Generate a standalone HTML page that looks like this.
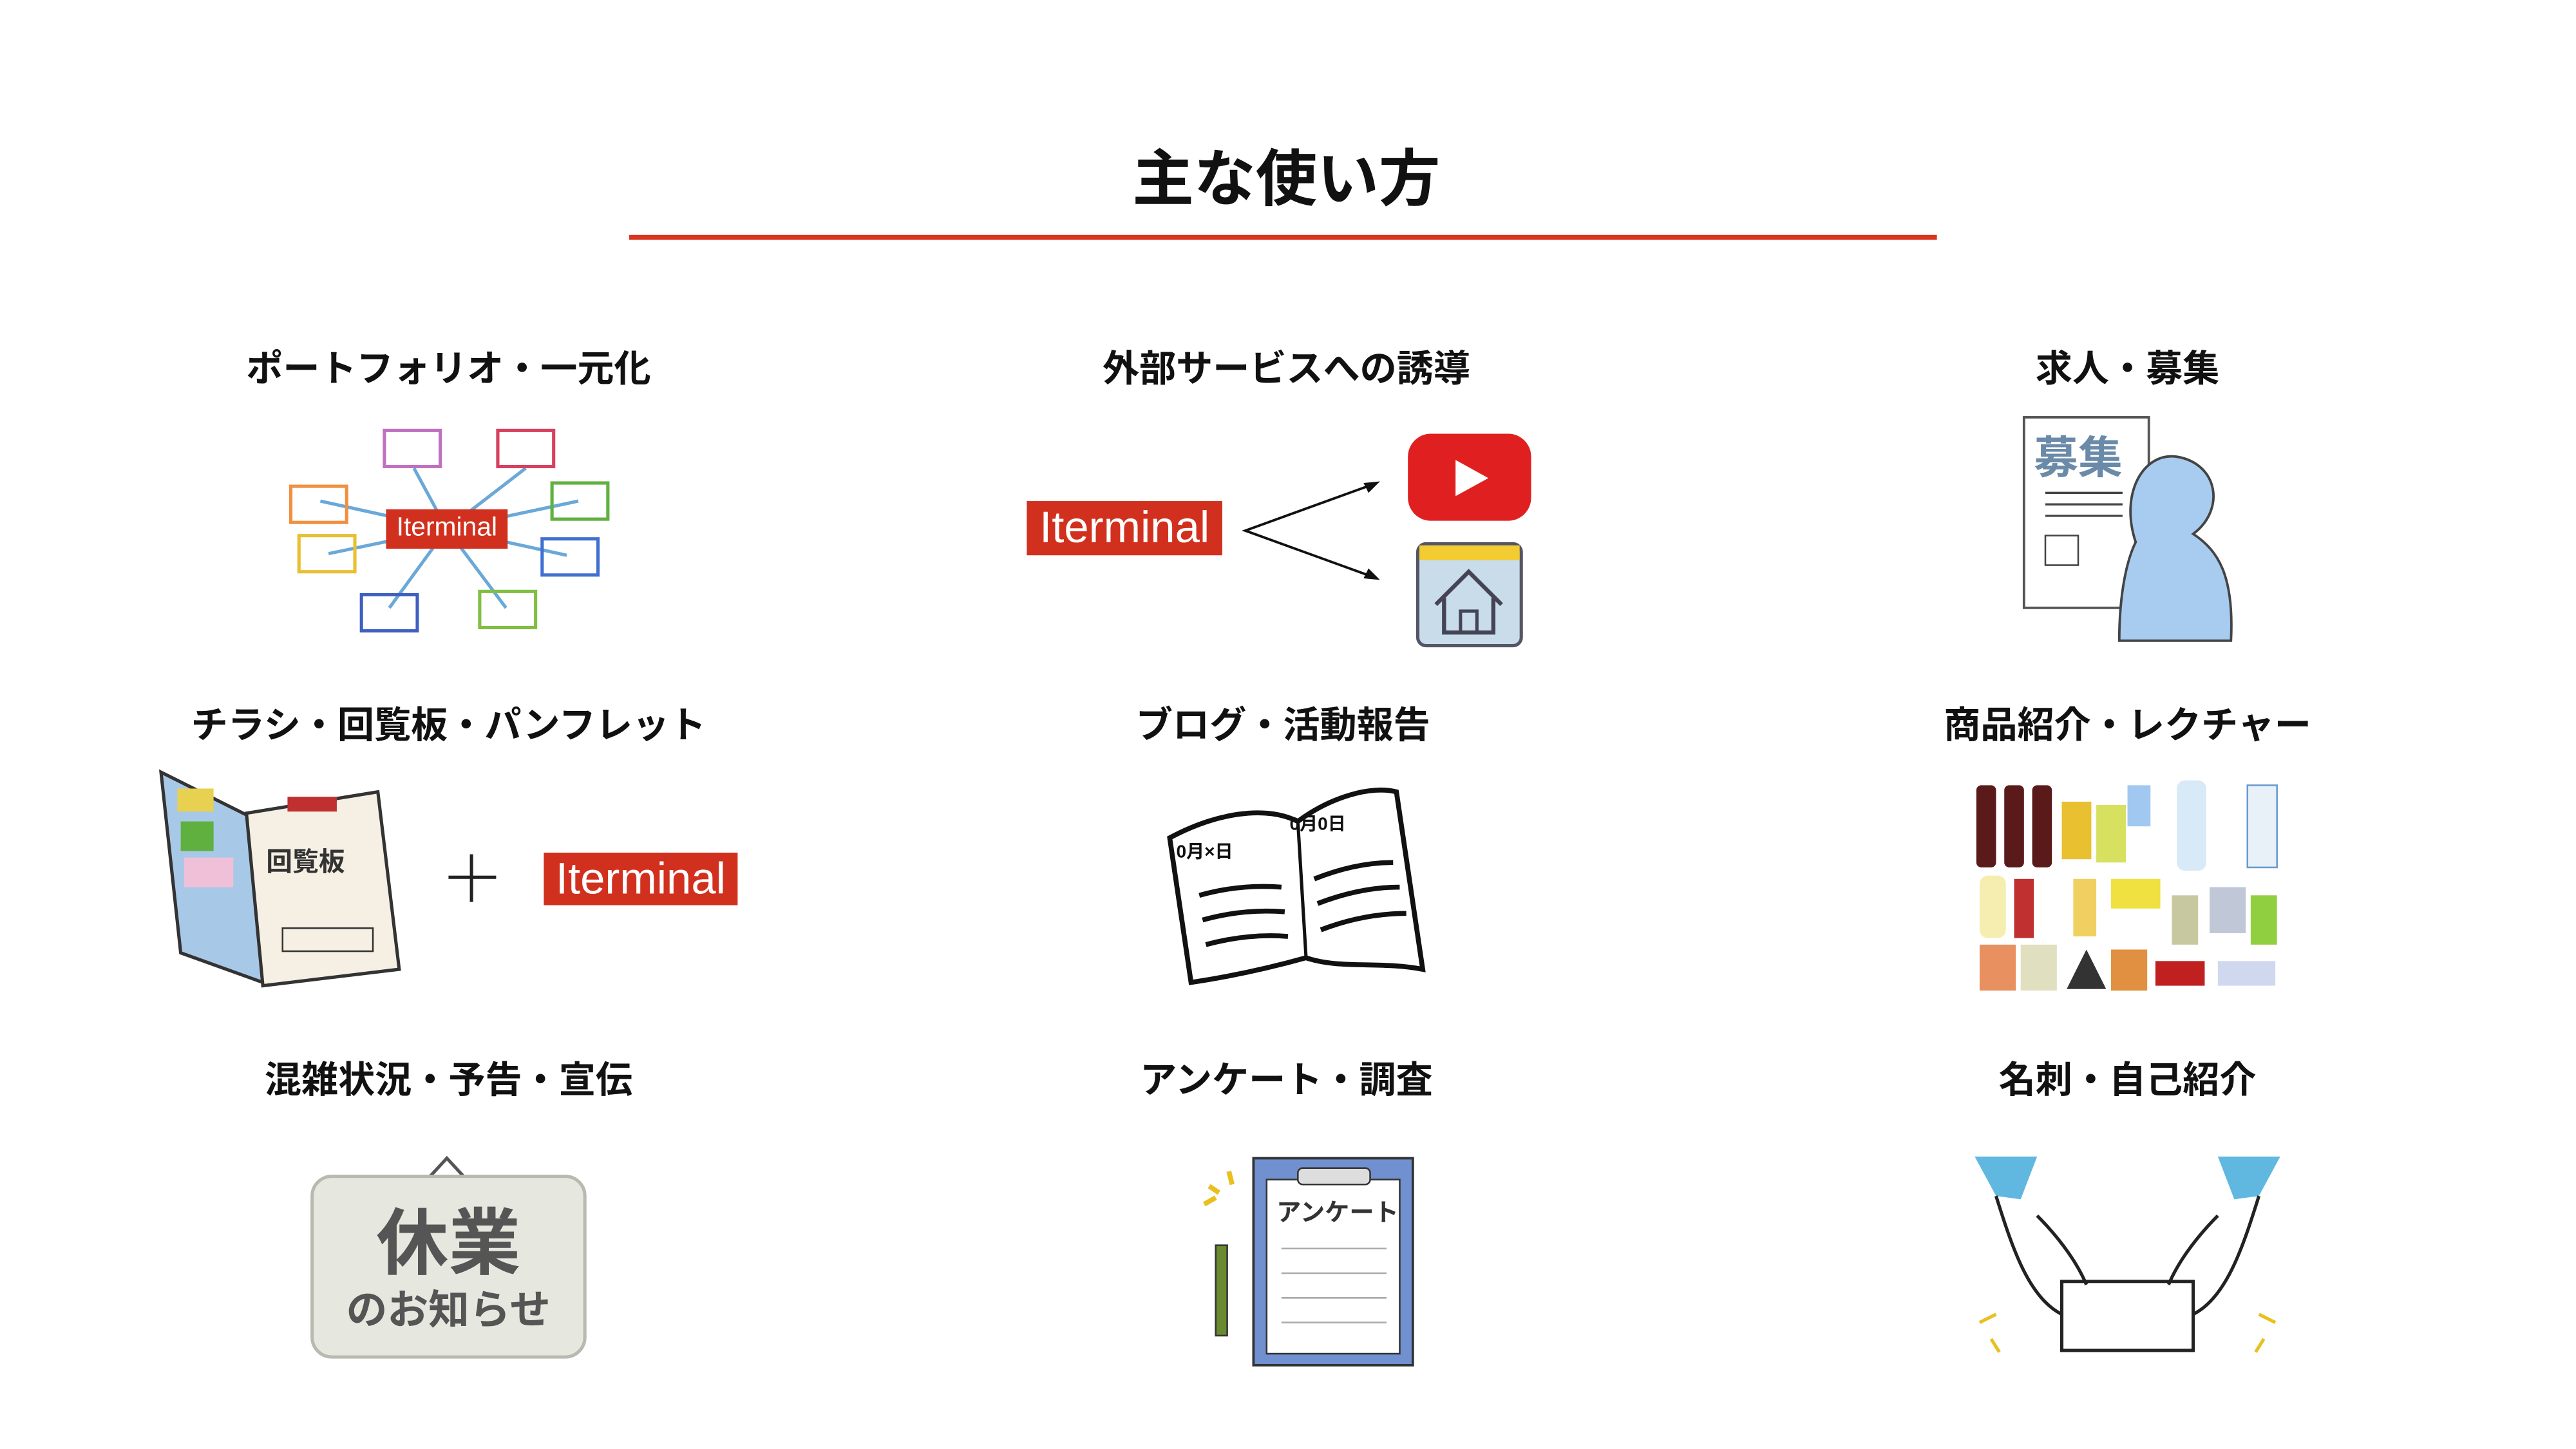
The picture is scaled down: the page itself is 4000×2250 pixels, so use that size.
<!DOCTYPE html>
<html><head><meta charset="utf-8"><style>
html,body{margin:0;padding:0;background:#fff;}
body{width:4000px;height:2250px;overflow:hidden;position:relative;}
#s{position:absolute;left:0;top:0;width:1568px;height:882px;transform:scale(2.551);transform-origin:0 0;font-family:"Liberation Sans","Noto Sans CJK JP",sans-serif;}
.t{position:absolute;font-weight:bold;color:#111;white-space:nowrap;transform:translateX(-50%);}
.lab{font-size:22.4px;}
.badge{position:absolute;background:#d2301e;color:#fff;text-align:center;font-family:"Liberation Sans",sans-serif;}
.a{position:absolute;}
</style></head><body><div id="s">
<div class="t" style="left:783px;top:78px;font-size:37.5px;">主な使い方</div>
<div class="a" style="left:383px;top:143px;width:796px;height:3px;background:#d9341c;"></div>

<div class="t lab" style="left:273px;top:207px;">ポートフォリオ・一元化</div>
<div class="t lab" style="left:783px;top:207px;">外部サービスへの誘導</div>
<div class="t lab" style="left:1295px;top:207px;">求人・募集</div>
<div class="t lab" style="left:273px;top:424px;">チラシ・回覧板・パンフレット</div>
<div class="t lab" style="left:781px;top:424px;">ブログ・活動報告</div>
<div class="t lab" style="left:1295px;top:424px;">商品紹介・レクチャー</div>
<div class="t lab" style="left:273px;top:640px;">混雑状況・予告・宣伝</div>
<div class="t lab" style="left:783px;top:640px;">アンケート・調査</div>
<div class="t lab" style="left:1295px;top:640px;">名刺・自己紹介</div>

<!-- portfolio -->
<svg class="a" style="left:170px;top:255px" width="210" height="135" viewBox="170 255 210 135" fill="none" stroke-width="2">
<g stroke="#6aa8d8"><line x1="272" y1="322" x2="252" y2="285"/><line x1="272" y1="322" x2="320" y2="285"/><line x1="272" y1="322" x2="195" y2="305"/><line x1="272" y1="322" x2="200" y2="337"/><line x1="272" y1="322" x2="352" y2="305"/><line x1="272" y1="322" x2="345" y2="338"/><line x1="272" y1="322" x2="237" y2="370"/><line x1="272" y1="322" x2="308" y2="370"/></g>
<rect x="234" y="262" width="34" height="22" stroke="#c070c0"/><rect x="303" y="262" width="34" height="22" stroke="#d84060"/>
<rect x="177" y="296" width="34" height="22" stroke="#f09040"/><rect x="182" y="326" width="34" height="22" stroke="#e8c030"/>
<rect x="336" y="294" width="34" height="22" stroke="#60b040"/><rect x="330" y="328" width="34" height="22" stroke="#4070d0"/>
<rect x="220" y="362" width="34" height="22" stroke="#4060c0"/><rect x="292" y="360" width="34" height="22" stroke="#80c040"/>
</svg>
<div class="badge" style="left:235px;top:310px;width:74px;height:24px;font-size:16px;line-height:24px;">Iterminal</div>

<!-- external -->
<div class="badge" style="left:625px;top:305px;width:119px;height:33px;font-size:27px;line-height:33px;">Iterminal</div>
<svg class="a" style="left:750px;top:260px" width="190" height="140" viewBox="750 260 190 140">
<polyline points="838,294 758,323 838,352" fill="none" stroke="#111" stroke-width="1.5"/>
<polygon points="840,293 830,294 833,300" fill="#111"/><polygon points="840,353 830,352 833,346" fill="#111"/>
<rect x="857" y="264" width="75" height="53" rx="14" fill="#e02020"/>
<polygon points="886,280 886,302 906,291" fill="#fff"/>
<rect x="863" y="331" width="63" height="62" rx="5" fill="#c8dcea" stroke="#556" stroke-width="2"/>
<rect x="864" y="332" width="61" height="9" fill="#f2cc30"/>
<path d="M874 368 L894 348 L914 368 M879 364 V385 H909 V364" fill="none" stroke="#445" stroke-width="2.5"/>
<rect x="889" y="372" width="10" height="13" fill="none" stroke="#445" stroke-width="2"/>
</svg>

<!-- recruit -->
<svg class="a" style="left:1225px;top:250px" width="140" height="145" viewBox="1225 250 140 145">
<rect x="1232" y="254" width="76" height="116" fill="#fff" stroke="#555" stroke-width="1.5"/>
<text x="1238" y="288" font-size="27" font-weight="bold" fill="#6a8aa8" font-family="Noto Sans CJK JP">募集</text>
<g stroke="#444" stroke-width="1.3"><line x1="1245" y1="300" x2="1292" y2="300"/><line x1="1245" y1="307" x2="1292" y2="307"/><line x1="1245" y1="314" x2="1292" y2="314"/></g>
<rect x="1245" y="326" width="20" height="18" fill="none" stroke="#444"/>
<path d="M1300 330 C1290 300 1305 275 1325 278 C1350 282 1355 310 1335 325 C1350 335 1360 350 1358 390 L1290 390 C1290 360 1295 340 1300 330Z" fill="#a8ccf0" stroke="#444" stroke-width="1.5"/>
</svg>

<!-- flyer -->
<svg class="a" style="left:95px;top:465px" width="155" height="140" viewBox="95 465 155 140">
<path d="M98 470 L158 500 L160 598 L110 580 Z" fill="#a8c8e8" stroke="#333" stroke-width="2"/>
<rect x="110" y="500" width="20" height="18" fill="#60b040"/><rect x="112" y="522" width="30" height="18" fill="#f0c0d8"/><rect x="108" y="480" width="22" height="14" fill="#e8d050"/>
<path d="M150 495 L230 482 L243 590 L160 600 Z" fill="#f5efe4" stroke="#333" stroke-width="2"/>
<rect x="175" y="485" width="30" height="9" fill="#c03030"/>
<text x="162" y="530" font-size="16" font-weight="bold" fill="#333" font-family="Noto Sans CJK JP">回覧板</text>
<rect x="172" y="565" width="55" height="14" fill="none" stroke="#333"/>
</svg>
<div class="a" style="left:273px;top:533px;width:29px;height:2px;background:#222;"></div>
<div class="a" style="left:286px;top:520px;width:2px;height:29px;background:#222;"></div>
<div class="badge" style="left:331px;top:519px;width:118px;height:32px;font-size:27px;line-height:32px;">Iterminal</div>

<!-- blog -->
<svg class="a" style="left:705px;top:475px" width="170" height="130" viewBox="705 475 170 130">
<path d="M712 510 C740 495 770 490 790 500 C810 485 835 478 850 482 L866 590 C840 585 815 590 795 583 C770 590 745 595 725 598 Z" fill="#fff" stroke="#111" stroke-width="3"/>
<line x1="790" y1="500" x2="795" y2="583" stroke="#111" stroke-width="2"/>
<g stroke="#111" stroke-width="3" fill="none"><path d="M730 545 Q755 538 780 540"/><path d="M732 560 Q757 553 782 555"/><path d="M734 575 Q760 568 784 570"/><path d="M800 535 Q825 525 848 525"/><path d="M802 550 Q828 540 852 540"/><path d="M804 566 Q830 556 856 556"/></g>
<text x="716" y="522" font-size="11" font-weight="bold" fill="#111">0月×日</text><text x="785" y="505" font-size="11" font-weight="bold" fill="#111">0月0日</text>
</svg>

<!-- products -->
<svg class="a" style="left:1198px;top:465px" width="195" height="145" viewBox="1198 465 195 145">
<rect x="1203" y="478" width="12" height="50" rx="3" fill="#5a1a1a"/><rect x="1220" y="478" width="12" height="50" rx="3" fill="#5a1a1a"/><rect x="1237" y="478" width="12" height="50" rx="3" fill="#5a1a1a"/>
<rect x="1255" y="488" width="18" height="35" fill="#e8c030"/><rect x="1276" y="490" width="18" height="35" fill="#d8e060"/><rect x="1295" y="478" width="14" height="25" fill="#a0c8f0"/>
<rect x="1325" y="475" width="18" height="55" rx="5" fill="#d8eaf8"/><rect x="1368" y="478" width="18" height="50" fill="#e8f0f8" stroke="#6a9ad0"/>
<rect x="1205" y="533" width="16" height="38" rx="5" fill="#f6eeb0"/><rect x="1226" y="535" width="12" height="36" fill="#c03030"/><rect x="1262" y="535" width="14" height="35" fill="#f0d060"/>
<rect x="1285" y="535" width="30" height="18" fill="#f0e040"/><rect x="1322" y="545" width="16" height="30" fill="#c8c8a0"/><rect x="1345" y="540" width="22" height="28" fill="#c0c8d8"/><rect x="1370" y="545" width="16" height="30" fill="#90d040"/>
<rect x="1205" y="575" width="22" height="28" fill="#e89060"/><rect x="1230" y="575" width="22" height="28" fill="#e0e0c0"/><polygon points="1270,578 1258,602 1282,602" fill="#333"/><rect x="1285" y="578" width="22" height="25" fill="#e09040"/><rect x="1312" y="585" width="30" height="15" fill="#c02020"/><rect x="1350" y="585" width="35" height="15" fill="#d0d8f0"/>
</svg>

<!-- closed sign -->
<svg class="a" style="left:185px;top:700px" width="180" height="135" viewBox="185 700 180 135">
<path d="M260 718 L272 705 L284 718" fill="none" stroke="#555" stroke-width="2"/>
<rect x="190" y="716" width="166" height="110" rx="12" fill="#e6e8df" stroke="#b8bab0" stroke-width="2"/>
<text x="273" y="772" text-anchor="middle" font-size="44" font-weight="bold" fill="#555" font-family="Noto Sans CJK JP">休業</text>
<text x="273" y="806" text-anchor="middle" font-size="25" font-weight="bold" fill="#555" font-family="Noto Sans CJK JP">のお知らせ</text>
</svg>

<!-- survey -->
<svg class="a" style="left:725px;top:700px" width="145" height="135" viewBox="725 700 145 135">
<rect x="763" y="705" width="97" height="126" fill="#7090d0" stroke="#333" stroke-width="1.5"/>
<rect x="771" y="718" width="81" height="106" fill="#fff" stroke="#333"/>
<rect x="790" y="711" width="44" height="10" rx="3" fill="#ddd" stroke="#333"/>
<text x="777" y="743" font-size="15" font-weight="bold" fill="#333" font-family="Noto Sans CJK JP">アンケート</text>
<g stroke="#aaa"><line x1="780" y1="760" x2="844" y2="760"/><line x1="780" y1="775" x2="844" y2="775"/><line x1="780" y1="790" x2="844" y2="790"/><line x1="780" y1="805" x2="844" y2="805"/></g>
<rect x="740" y="758" width="7" height="55" fill="#6a8a30" stroke="#333"/>
<path d="M733 733 l7 -4 M736 722 l6 4 M748 713 l2 8" stroke="#e8c020" stroke-width="3"/>
</svg>

<!-- business card -->
<svg class="a" style="left:1195px;top:700px" width="200" height="130" viewBox="1195 700 200 130">
<polygon points="1202,704 1240,704 1230,730 1215,728" fill="#60b8e0"/><polygon points="1388,704 1350,704 1360,730 1375,728" fill="#60b8e0"/>
<rect x="1255" y="780" width="80" height="42" fill="#fff" stroke="#222" stroke-width="2"/>
<path d="M1215 728 C1225 760 1235 790 1255 800 M1240 740 C1255 755 1265 770 1270 782 M1375 728 C1365 760 1355 790 1335 800 M1350 740 C1335 755 1325 770 1320 782" fill="none" stroke="#222" stroke-width="2"/>
<path d="M1205 805 l10 -5 M1212 815 l5 8 M1385 805 l-10 -5 M1378 815 l-5 8" stroke="#e8c020" stroke-width="2"/>
</svg>
</div></body></html>
